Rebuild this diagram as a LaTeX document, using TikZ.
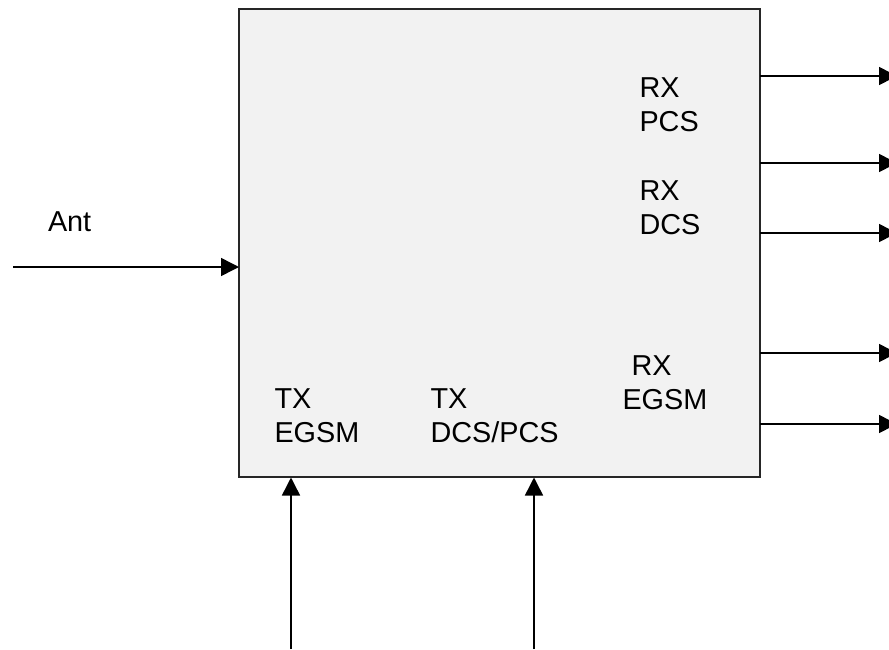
\documentclass[tikz,border=0pt]{standalone}
\usepackage{fontspec}
\setmainfont{Liberation Sans}
\usetikzlibrary{arrows.meta}
\begin{document}
\begin{tikzpicture}[x=1pt,y=-1pt,
  conn/.style={draw=black,line width=1.5pt,-{Triangle[length=18pt,width=18pt]}},
  lbl/.style={inner sep=0pt,outer sep=0pt,font=\fontsize{28.8}{34}\selectfont,align=left,text=black,anchor=north west,text height=20.8pt,text depth=0pt}]
\useasboundingbox (0,0) rectangle (889,649);
\clip (0,0) rectangle (889,649);
\node[draw=black!85,line width=1.5pt,fill=black!5,outer sep=0pt,minimum width=521pt,minimum height=468pt,inner sep=0pt,anchor=north west] (box) at (239,9) {};
\coordinate (a0) at (13,267);
\coordinate (a1) at (239,267);
\draw[conn] (a0) -- (a1);
\foreach \n/\y in {r1/76,r2/163,r3/233,r4/353,r5/424}{
  \coordinate (\n s) at (760,\y);
  \coordinate (\n e) at (897,\y);
  \draw[conn] (\n s) -- (\n e);
}
\coordinate (t1s) at (291,649);
\coordinate (t1e) at (291,477.5);
\coordinate (t2s) at (534,649);
\coordinate (t2e) at (534,477.5);
\draw[conn] (t1s) -- (t1e);
\draw[conn] (t2s) -- (t2e);
\node[lbl] (ant) at (48,211) {Ant};
\node[lbl] (rxpcs) at (639.5,110.5) {RX\\PCS};
\node[lbl] (rxdcs) at (639.5,214) {RX\\DCS};
\node[lbl] (rxegsm) at (622.5,388.5) {\hspace*{9pt}RX\\EGSM};
\node[lbl] (txegsm) at (274.5,422) {TX\\EGSM};
\node[lbl] (txdcs) at (430.5,422) {TX\\DCS/PCS};
\end{tikzpicture}
\end{document}
